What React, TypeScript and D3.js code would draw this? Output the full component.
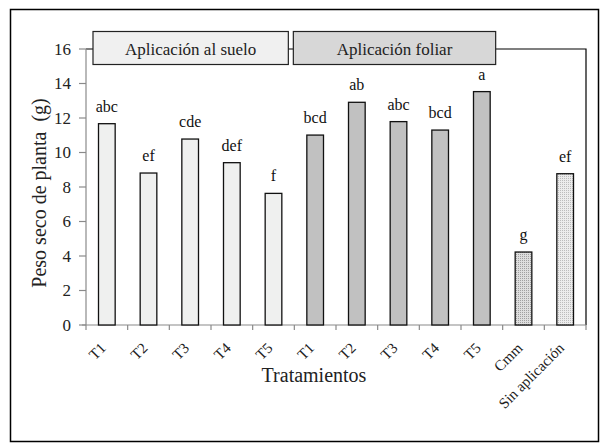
import React from 'react';
import * as d3 from 'd3';

const categories = ['T1', 'T2', 'T3', 'T4', 'T5', 'T1', 'T2', 'T3', 'T4', 'T5', 'Cmm', 'Sin aplicación'];
const values = [11.67, 8.81, 10.78, 9.41, 7.63, 11.01, 12.91, 11.79, 11.3, 13.53, 4.23, 8.77];
const letters = ['abc', 'ef', 'cde', 'def', 'f', 'bcd', 'ab', 'abc', 'bcd', 'a', 'g', 'ef'];
const groups = ['suelo', 'suelo', 'suelo', 'suelo', 'suelo', 'foliar', 'foliar', 'foliar', 'foliar', 'foliar', 'cmm', 'sin'];
const yTicks = [0, 2, 4, 6, 8, 10, 12, 14, 16];
const headerLabels = ['Aplicación al suelo', 'Aplicación foliar'];

const W = 607;
const H = 448;
const margin = { top: 49, right: 21, bottom: 123, left: 86 };
const FONT = "'Liberation Serif', 'DejaVu Serif', serif";

const fills: Record<string, string> = {
  suelo: '#eff0ef',
  foliar: '#c1c1c1',
  cmm: 'url(#dotsDark)',
  sin: 'url(#dotsLight)',
};

export default function App() {
  const x = d3.scaleBand<number>()
    .domain(categories.map((_, i) => i))
    .range([margin.left, W - margin.right])
    .paddingInner(0.6)
    .paddingOuter(0.3);
  const y = d3.scaleLinear().domain([0, 16]).range([H - margin.bottom, margin.top]);

  const step = x.step();
  const bw = x.bandwidth();
  const x0 = margin.left;
  const x1 = W - margin.right;
  const y0 = y(0);
  const yTop = y(16);
  const boundary = (i: number) => x0 + i * step;

  // header boxes over the plot top
  const boxes = [
    { label: headerLabels[0], left: boundary(0) + 7, right: boundary(5) - 6 },
    { label: headerLabels[1], left: boundary(5) - 1, right: boundary(10) - 7 },
  ];
  const boxFill = ['#f0f0f0', '#d7d7d7'];
  const boxTop = yTop - 17.5;
  const boxH = 33;

  const axisColor = '#8a8a8a';
  const txt = { fontFamily: FONT };

  return (
    <svg width={W} height={H} style={{ position: 'absolute', left: 0, top: 0, background: '#fff', fontFamily: FONT }}>
      <defs>
        <pattern id="dotsDark" width="2" height="2" patternUnits="userSpaceOnUse">
          <rect width="2" height="2" fill="#dedede" />
          <rect width="1" height="1" fill="#a0a0a0" />
        </pattern>
        <pattern id="dotsLight" width="2" height="2" patternUnits="userSpaceOnUse">
          <rect width="2" height="2" fill="#ececec" />
          <rect width="1" height="1" fill="#bcbcbc" />
        </pattern>
      </defs>

      {/* outer frame */}
      <rect x={10.5} y={9.5} width={588} height={432} fill="none" stroke="#000" strokeWidth={1.5} />

      {/* plot frame: top and right black */}
      <path d={`M${x0},${yTop}H${x1}V${y0}`} fill="none" stroke="#000" strokeWidth={1.2} />

      {/* y axis */}
      <line x1={x0} x2={x0} y1={y0} y2={yTop} stroke={axisColor} strokeWidth={1.2} />
      {yTicks.map(t => (
        <g key={t}>
          <line x1={x0 - 7} x2={x0} y1={y(t)} y2={y(t)} stroke={axisColor} strokeWidth={1.2} />
          <text x={x0 - 15} y={y(t)} dy="0.35em" textAnchor="end" fontSize={17} fill="#222" style={txt}>{t}</text>
        </g>
      ))}

      {/* x axis */}
      <line x1={x0 - 4} x2={x1} y1={y0} y2={y0} stroke={axisColor} strokeWidth={1.2} />
      {d3.range(categories.length + 1).map(i => (
        <line key={i} x1={boundary(i)} x2={boundary(i)} y1={y0} y2={y0 + 5} stroke={axisColor} strokeWidth={1.2} />
      ))}

      {/* bars */}
      {values.map((v, i) => (
        <rect
          key={i}
          x={x(i)}
          y={y(v)}
          width={bw}
          height={y0 - y(v)}
          fill={fills[groups[i]]}
          stroke="#111"
          strokeWidth={1.3}
        />
      ))}

      {/* significance letters */}
      {values.map((v, i) => (
        <text key={i} x={(x(i) || 0) + bw / 2} y={y(v) - 12} textAnchor="middle" fontSize={16} fill="#111" style={txt}>
          {letters[i]}
        </text>
      ))}

      {/* x tick labels */}
      {categories.map((c, i) => (
        <text
          key={i}
          transform={`translate(${(x(i) || 0) + bw / 2},${y0 + 24}) rotate(-45)`}
          textAnchor="end"
          fontSize={15}
          fill="#222"
          style={txt}
        >
          {c}
        </text>
      ))}

      {/* header boxes */}
      {boxes.map((b, i) => (
        <g key={i}>
          <rect x={b.left} y={boxTop} width={b.right - b.left} height={boxH} fill={boxFill[i]} stroke="#222" strokeWidth={1.2} />
          <text x={(b.left + b.right) / 2} y={boxTop + 23} textAnchor="middle" fontSize={17} fill="#222" style={txt}>{b.label}</text>
        </g>
      ))}

      {/* axis titles */}
      <text x={(x0 + x1) / 2 - 22} y={382} textAnchor="middle" fontSize={20} fill="#222" style={txt}>Tratamientos</text>
      <text
        transform={`translate(46,${(y0 + yTop) / 2 + 6}) rotate(-90)`}
        textAnchor="middle"
        fontSize={20}
        fill="#222"
        style={{ ...txt, whiteSpace: 'pre' }}
      >
        {'Peso seco de planta  (g)'}
      </text>
    </svg>
  );
}
